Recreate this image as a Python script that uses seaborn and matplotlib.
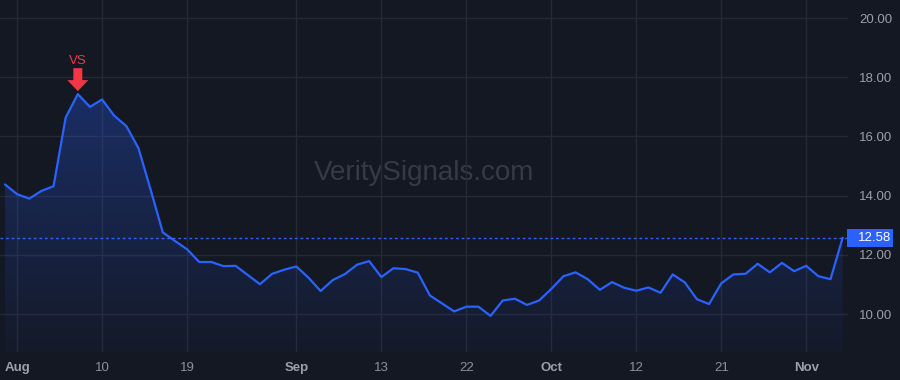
import numpy as np
import pandas as pd
import matplotlib
matplotlib.use("Agg")
import matplotlib.pyplot as plt
import matplotlib.transforms as mtransforms
from matplotlib.patches import Polygon, Rectangle
from matplotlib.colors import LinearSegmentedColormap
import seaborn as sns

# ---------------- data ----------------
dates = [d.strftime("%Y-%m-%d") for d in pd.bdate_range("2022-07-29", "2022-11-04")
         if d.strftime("%Y-%m-%d") != "2022-09-05"]
values = [14.38, 14.05, 13.90, 14.16, 14.32, 16.64, 17.43, 17.00, 17.25, 16.70,
          16.35, 15.60, 14.20, 12.76, 12.47, 12.19, 11.76, 11.76, 11.62, 11.63,
          11.32, 11.01, 11.36, 11.50, 11.61, 11.23, 10.78, 11.15, 11.35, 11.67,
          11.79, 11.25, 11.55, 11.52, 11.40, 10.63, 10.36, 10.09, 10.25, 10.25,
          9.94, 10.46, 10.52, 10.31, 10.46, 10.85, 11.28, 11.41, 11.18, 10.82,
          11.08, 10.89, 10.79, 10.90, 10.72, 11.34, 11.07, 10.50, 10.34, 11.04,
          11.34, 11.36, 11.70, 11.41, 11.73, 11.45, 11.63, 11.28, 11.18, 12.58]
tick_dates = ["2022-08-01", "2022-08-10", "2022-08-19", "2022-09-01", "2022-09-13",
              "2022-09-22", "2022-10-03", "2022-10-12", "2022-10-21", "2022-11-01"]
tick_labels = ["Aug", "10", "19", "Sep", "13", "22", "Oct", "12", "21", "Nov"]
month_labels = {"Aug", "Sep", "Oct", "Nov"}
y_ticks = [10, 12, 14, 16, 18, 20]
last_price = 12.58
marker_label = "VS"
watermark = "VeritySignals.com"

# ---------------- style ----------------
BG = "#141823"
GRID = "#252934"
BLUE = "#2962ff"
RED = "#f23645"
FONT = ["Liberation Sans", "DejaVu Sans"]

sns.set_style("dark")
plt.rcParams["font.family"] = FONT

df = pd.DataFrame({"idx": np.arange(len(values)), "date": dates, "value": values})

W, H = 900, 380
fig = plt.figure(figsize=(W / 100, H / 100), dpi=100, facecolor=BG)
ax = fig.add_axes([0, 28 / H, 848 / W, 352 / H])
ax.set_facecolor(BG)

ax.set_xlim(-0.41, 69.44)
ax.set_ylim(8.72, 20.61)

# gradient fill under the line
cmap = LinearSegmentedColormap.from_list(
    "g", [(41 / 255, 98 / 255, 1, 0.03), (41 / 255, 98 / 255, 1, 0.30)])
grad = np.linspace(0, 1, 256).reshape(-1, 1)
ymax = max(values)
im = ax.imshow(grad, cmap=cmap, aspect="auto", origin="lower",
               extent=[df.idx.min(), df.idx.max(), 8.72, ymax], zorder=1)
verts = [(df.idx.min(), 8.72)] + list(zip(df.idx, df.value)) + [(df.idx.max(), 8.72)]
clip = Polygon(verts, closed=True, transform=ax.transData, fc="none", ec="none")
ax.add_patch(clip)
im.set_clip_path(clip)

sns.lineplot(data=df, x="idx", y="value", ax=ax, color=BLUE, linewidth=1.6, zorder=3)

# last price dotted line
ax.axhline(last_price, color=BLUE, linewidth=1.0, linestyle=(0, (2, 2)), zorder=2)

# grid and ticks
tick_pos = [dates.index(d) for d in tick_dates]
ax.set_xticks(tick_pos)
ax.set_xticklabels(tick_labels)
for lbl in ax.get_xticklabels():
    if lbl.get_text() in month_labels:
        lbl.set_fontweight("bold")
        lbl.set_color("#9ca0aa")
    else:
        lbl.set_color("#8c909a")
ax.set_yticks(y_ticks)
ax.set_yticklabels([f"{v:.2f}" for v in y_ticks])
ax.yaxis.tick_right()
ax.tick_params(axis="y", length=0, pad=8, labelsize=9.5, labelcolor="#9a9ea8")
ax.tick_params(axis="x", length=0, pad=7, labelsize=9.5)
ax.grid(True, color=GRID, linewidth=1.0)
ax.set_axisbelow(True)
for s in ax.spines.values():
    s.set_visible(False)
ax.set_xlabel("")
ax.set_ylabel("")

# watermark
ax.text(0.5, 0.508, watermark, transform=ax.transAxes, ha="center", va="center",
        fontsize=20, color="#363a45", zorder=0.5)

# last price label
bt = mtransforms.blended_transform_factory(fig.transFigure, ax.transData)
box_h = 18 / 29.6
fig.add_artist(Rectangle((847 / W, last_price - box_h / 2), 46 / W, box_h,
                         transform=bt, fc=BLUE, ec="none", zorder=5))
fig.text(858 / W, last_price, f"{last_price:.2f}", transform=bt, ha="left",
         va="center", color="white", fontsize=9.5, zorder=6)

# red marker arrow above the peak
peak_i = int(np.argmax(values))
px, py = ax.transData.transform((df.idx[peak_i], values[peak_i]))
tip_y = py + 3
arrow = [(px, tip_y), (px - 10.5, tip_y + 11), (px - 4.5, tip_y + 11),
         (px - 4.5, tip_y + 23), (px + 4.5, tip_y + 23), (px + 4.5, tip_y + 11),
         (px + 10.5, tip_y + 11)]
fig.add_artist(Polygon(arrow, closed=True, transform=mtransforms.IdentityTransform(),
                       fc=RED, ec="none", zorder=6))
fig.text(px / W, (tip_y + 30) / H, marker_label, ha="center", va="center",
         color=RED, fontsize=9.5, zorder=6)

fig.savefig("out.png", dpi=100, facecolor=BG)
